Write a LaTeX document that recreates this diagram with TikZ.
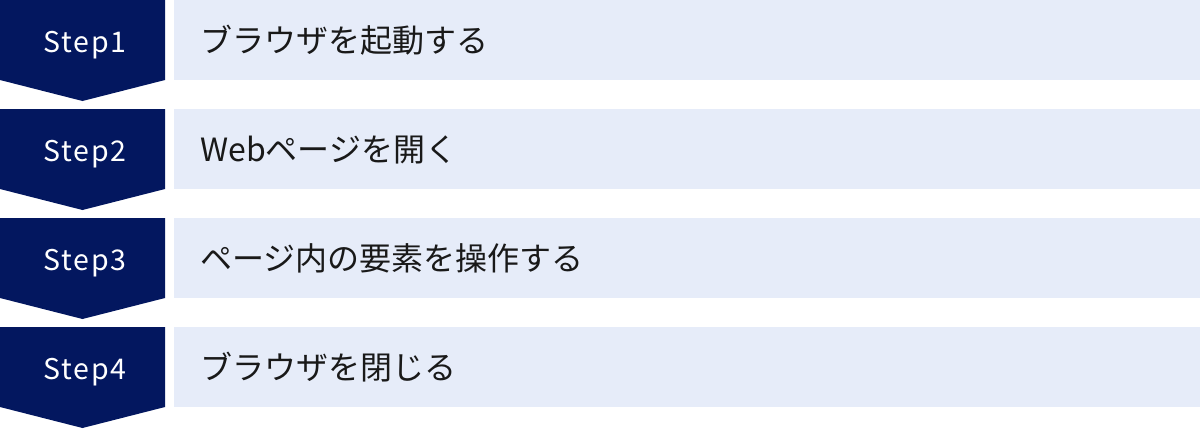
\documentclass[tikz,border=0pt]{standalone}
\usepackage{fontspec}
\setmainfont{Noto Sans CJK JP}
\definecolor{navy}{HTML}{03175F}
\definecolor{lightbg}{HTML}{E6ECF9}
\begin{document}
\begin{tikzpicture}[x=1pt,y=-1pt,
  stepshape/.style={fill=navy,draw=none},
  barshape/.style={fill=lightbg,draw=none},
  steplabel/.style={text=white,font=\fontsize{28.5}{30}\selectfont\addfontfeatures{LetterSpace=6},anchor=base,inner sep=0pt},
  barlabel/.style={text=black!90,font=\fontsize{32}{36}\selectfont,anchor=base west,inner sep=0pt}]
\useasboundingbox (0,0) rectangle (1200,429);
\foreach \i/\s/\t in {0/1/ブラウザを起動する,1/2/Webページを開く,2/3/ページ内の要素を操作する,3/4/ブラウザを閉じる}{
  \pgfmathsetmacro{\yy}{109*\i}
  \fill[stepshape] (0,\yy) -- (165,\yy) -- (165,\yy+80) -- (82.5,\yy+101) -- (0,\yy+80) -- cycle;
  \fill[barshape] (174,\yy) rectangle (1200,\yy+80);
  \node[steplabel] (s\s) at (85,\yy+52) {Step\s};
  \node[barlabel] (t\s) at (200,\yy+52.5) {\t};
}
\end{tikzpicture}
\end{document}
